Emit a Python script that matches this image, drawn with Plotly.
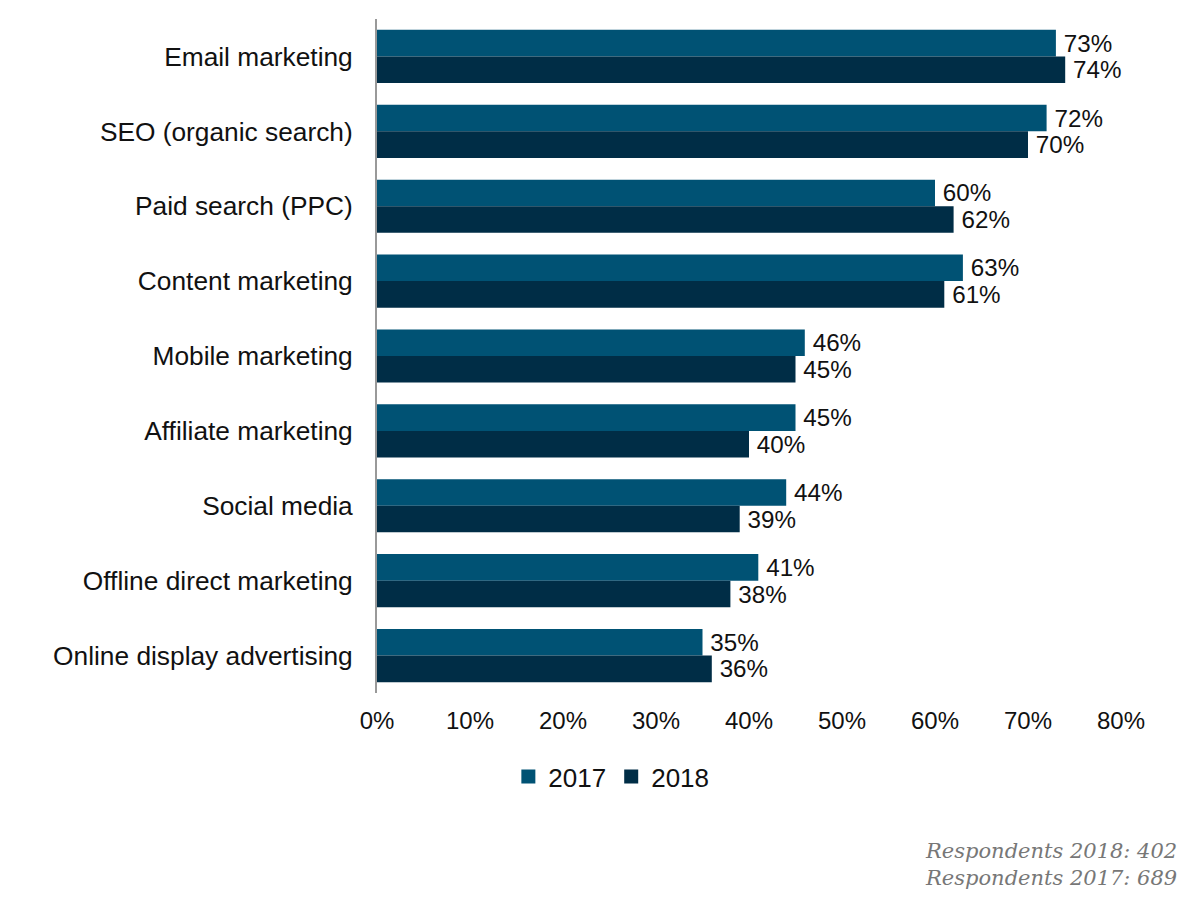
import plotly.graph_objects as go

# Données
categories = [
    "Email marketing",
    "SEO (organic search)",
    "Paid search (PPC)",
    "Content marketing",
    "Mobile marketing",
    "Affiliate marketing",
    "Social media",
    "Offline direct marketing",
    "Online display advertising",
]
values_2017 = [73, 72, 60, 63, 46, 45, 44, 41, 35]
values_2018 = [74, 70, 62, 61, 45, 40, 39, 38, 36]
tick_vals = [0, 10, 20, 30, 40, 50, 60, 70, 80]
tick_text = [f"{v}%" for v in tick_vals]

font_main = "Liberation Sans, Arial, sans-serif"
couleurs = {"2017": "#005274", "2018": "#002d46"}

fig = go.Figure()
for annee, valeurs in [("2017", values_2017), ("2018", values_2018)]:
    fig.add_trace(go.Bar(
        y=categories, x=valeurs, name=annee, orientation="h",
        marker_color=couleurs[annee], marker_line_width=0,
        text=[f"\u2009{v}%" for v in valeurs], textposition="outside",
        textfont=dict(size=25.5, color="#111111"), cliponaxis=False,
        showlegend=False,
    ))
# marqueurs carrés pour la légende
for annee in ["2017", "2018"]:
    fig.add_trace(go.Scatter(
        x=[None], y=[None], mode="markers", name=annee,
        marker=dict(symbol="square", size=14, color=couleurs[annee]),
    ))

fig.update_layout(
    width=1200, height=910,
    margin=dict(l=369, r=87, t=11, b=225),
    barmode="group", bargap=0.29, bargroupgap=0,
    plot_bgcolor="white", paper_bgcolor="white",
    font=dict(family=font_main, size=24, color="#111111"),
    xaxis=dict(
        range=[0, 80], tickvals=tick_vals, ticktext=tick_text,
        showgrid=False, zeroline=False, showline=False, automargin=False,
        ticks="outside", ticklen=6, tickcolor="rgba(0,0,0,0)",
        tickfont=dict(size=24),
    ),
    yaxis=dict(
        categoryorder="array", categoryarray=categories, autorange="reversed",
        showgrid=False, showline=True, linecolor="#999999", linewidth=2,
        ticks="outside", ticklen=17, tickcolor="rgba(0,0,0,0)",
        tickfont=dict(size=26.3), automargin=False,
    ),
    legend=dict(
        orientation="h", x=0.315, xanchor="center", y=-0.089, yanchor="top",
        font=dict(size=26), itemwidth=30,
    ),
    showlegend=True,
)

fig.add_annotation(
    text="<i>Respondents 2018: 402</i><br><i>Respondents 2017: 689</i>",
    xref="paper", yref="paper", x=1.0785, y=-0.213, xanchor="right", yanchor="top",
    align="right", showarrow=False,
    font=dict(family="DejaVu Serif, Liberation Serif, serif", size=21, color="#777777"),
)

fig.write_html("out.html")
